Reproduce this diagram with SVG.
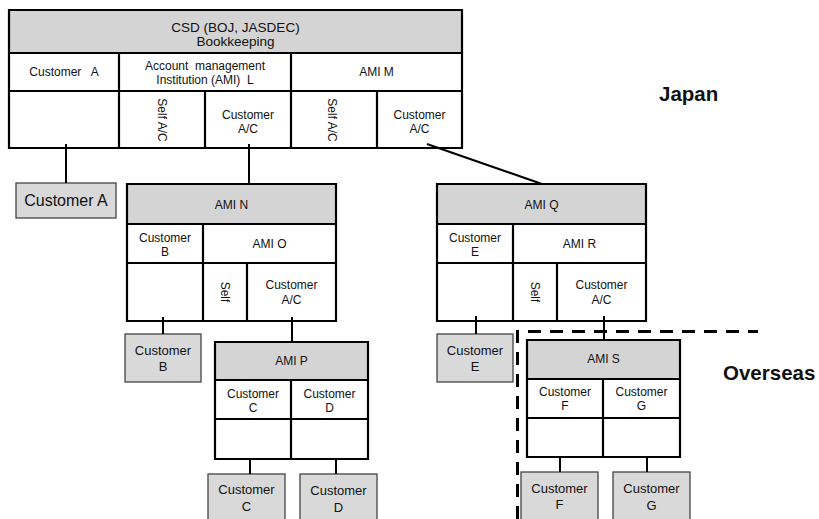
<svg xmlns="http://www.w3.org/2000/svg" width="819" height="519" viewBox="0 0 819 519">
<style>
text{font-family:"Liberation Sans",Arial,sans-serif;fill:#111;text-anchor:middle}
.t{font-size:12px}
.h{font-size:13.5px}
.b{font-size:13px}
.big{font-size:16px}
.lab{font-size:20.5px;font-weight:bold;text-anchor:start}
.hdr{fill:#d4d4d4;stroke:none}
.cell{fill:#fff;stroke:none}
.ln{stroke:#000;stroke-width:2.2;fill:none}
.box{fill:#d9d9d9;stroke:#444;stroke-width:1.3}
.con{stroke:#000;stroke-width:2;fill:none}
</style>
<rect width="819" height="519" fill="#fff"/>

<g id="csd">
<rect class="cell" x="9" y="10" width="453" height="138"/>
<rect class="hdr" x="9" y="10" width="453" height="43"/>
<path class="ln" d="M9 10H462V148H9Z M9 53H462 M9 91H462 M119 53V148 M291 53V148 M205 91V148 M377 91V148"/>
<text class="h" x="235.5" y="32">CSD (BOJ, JASDEC)</text>
<text class="h" x="235.5" y="46">Bookkeeping</text>
<text class="t" x="64" y="76" xml:space="preserve">Customer   A</text>
<text class="t" x="205" y="70" xml:space="preserve">Account  management</text>
<text class="t" x="205" y="84" xml:space="preserve">Institution (AMI)  L</text>
<text class="t" x="376.5" y="76">AMI M</text>
<text class="t" transform="translate(158,120) rotate(90)">Self  A/C</text>
<text class="t" x="248" y="119">Customer</text>
<text class="t" x="248" y="133">A/C</text>
<text class="t" transform="translate(328,120) rotate(90)">Self  A/C</text>
<text class="t" x="419.5" y="119">Customer</text>
<text class="t" x="419.5" y="133">A/C</text>
</g>

<g id="amiN">
<rect class="cell" x="127" y="184" width="209" height="137"/>
<rect class="hdr" x="127" y="184" width="209" height="40"/>
<path class="ln" d="M127 184H336V321H127Z M127 224H336 M127 263H336 M203 224V321 M247 263V321"/>
<text class="t" x="231.5" y="209">AMI N</text>
<text class="t" x="165" y="242">Customer</text>
<text class="t" x="165" y="256">B</text>
<text class="t" x="269.5" y="248">AMI O</text>
<text class="t" transform="translate(221,292) rotate(90)">Self</text>
<text class="t" x="291.5" y="289">Customer</text>
<text class="t" x="291.5" y="304">A/C</text>
</g>

<g id="amiQ">
<rect class="cell" x="437" y="184" width="209" height="137"/>
<rect class="hdr" x="437" y="184" width="209" height="40"/>
<path class="ln" d="M437 184H646V321H437Z M437 224H646 M437 263H646 M513 224V321 M557 263V321"/>
<text class="t" x="541.5" y="209">AMI Q</text>
<text class="t" x="475" y="242">Customer</text>
<text class="t" x="475" y="256">E</text>
<text class="t" x="579.5" y="248">AMI R</text>
<text class="t" transform="translate(531,292) rotate(90)">Self</text>
<text class="t" x="601.5" y="289">Customer</text>
<text class="t" x="601.5" y="304">A/C</text>
</g>

<g id="amiP">
<rect class="cell" x="215" y="342" width="153" height="117"/>
<rect class="hdr" x="215" y="342" width="153" height="38"/>
<path class="ln" d="M215 342H368V459H215Z M215 380H368 M215 419H368 M291 380V459"/>
<text class="t" x="291.5" y="365">AMI P</text>
<text class="t" x="253" y="398">Customer</text>
<text class="t" x="253" y="412">C</text>
<text class="t" x="329.5" y="398">Customer</text>
<text class="t" x="329.5" y="412">D</text>
</g>

<g id="amiS">
<rect class="cell" x="527" y="340" width="153" height="117"/>
<rect class="hdr" x="527" y="340" width="153" height="39"/>
<path class="ln" d="M527 340H680V457H527Z M527 379H680 M527 418H680 M603 379V457"/>
<text class="t" x="603.5" y="363">AMI S</text>
<text class="t" x="565" y="396">Customer</text>
<text class="t" x="565" y="410">F</text>
<text class="t" x="641.5" y="396">Customer</text>
<text class="t" x="641.5" y="410">G</text>
</g>

<g id="custA"><rect class="box" x="16" y="183" width="100" height="35"/><text class="big" x="66" y="206">Customer A</text></g>
<g id="custB"><rect class="box" x="125" y="334" width="76" height="48"/><text class="b" x="163" y="355">Customer</text><text class="b" x="163" y="371">B</text></g>
<g id="custE"><rect class="box" x="437" y="334" width="76" height="48"/><text class="b" x="475" y="355">Customer</text><text class="b" x="475" y="371">E</text></g>
<g id="custC"><rect class="box" x="208" y="474" width="77" height="50"/><text class="b" x="246.5" y="494">Customer</text><text class="b" x="246.5" y="511">C</text></g>
<g id="custD"><rect class="box" x="300" y="474" width="77" height="50"/><text class="b" x="338.5" y="495">Customer</text><text class="b" x="338.5" y="512">D</text></g>
<g id="custF"><rect class="box" x="521" y="472" width="77" height="52"/><text class="b" x="559.5" y="493">Customer</text><text class="b" x="559.5" y="509">F</text></g>
<g id="custG"><rect class="box" x="613" y="472" width="77" height="52"/><text class="b" x="651.5" y="493">Customer</text><text class="b" x="651.5" y="510">G</text></g>

<g id="connectors">
<path class="con" d="M66 144V183"/>
<path class="con" stroke-width="2.8" d="M249 144V184"/>
<path class="con" d="M427 144L542 184"/>
<path class="con" d="M163 317V334"/>
<path class="con" d="M292 317V342"/>
<path class="con" d="M476 316V334"/>
<path class="con" d="M604 316V340"/>
<path class="con" d="M250 459V474"/>
<path class="con" d="M336 459V474"/>
<path class="con" d="M560 457V472"/>
<path class="con" d="M647 457V472"/>
</g>

<g id="region">
<path d="M758 331.5H517.5V519" fill="none" stroke="#000" stroke-width="3" stroke-dasharray="13 9" stroke-dashoffset="3"/>
<text class="lab" x="659" y="101">Japan</text>
<text class="lab" x="723" y="380">Overseas</text>
</g>
</svg>
